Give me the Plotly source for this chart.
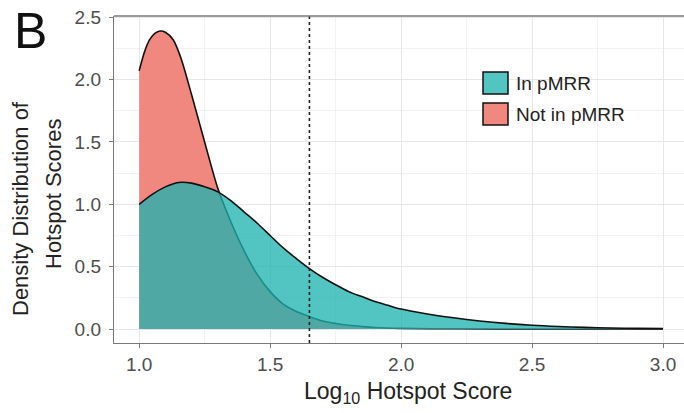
import plotly.graph_objects as go

# ---- data ----
x_not = [1.00, 1.02, 1.04, 1.06, 1.08, 1.10, 1.13, 1.16, 1.20, 1.25, 1.30, 1.35, 1.40,
         1.45, 1.50, 1.55, 1.60, 1.65, 1.70, 1.75, 1.80, 1.85, 1.90, 2.00, 2.20, 2.50, 3.00]
y_not = [2.07, 2.22, 2.32, 2.37, 2.39, 2.38, 2.32, 2.17, 1.88, 1.50, 1.13, 0.86, 0.63,
         0.44, 0.30, 0.20, 0.14, 0.10, 0.065, 0.045, 0.03, 0.02, 0.012, 0.005, 0.002, 0.0, 0.0]

x_in = [1.00, 1.05, 1.10, 1.15, 1.20, 1.25, 1.30, 1.35, 1.40, 1.45, 1.50, 1.55, 1.60,
        1.65, 1.70, 1.75, 1.80, 1.85, 1.90, 1.95, 2.00, 2.10, 2.20, 2.30, 2.40, 2.50, 2.60,
        2.70, 2.80, 2.90, 3.00]
y_in = [1.00, 1.08, 1.14, 1.175, 1.17, 1.14, 1.10, 1.03, 0.94, 0.85, 0.75, 0.65, 0.565,
        0.485, 0.415, 0.355, 0.30, 0.26, 0.22, 0.19, 0.16, 0.12, 0.09, 0.065, 0.045, 0.03,
        0.02, 0.013, 0.008, 0.005, 0.003]

series_names = ["In pMRR", "Not in pMRR"]
threshold = 1.65
x_ticks = [1.0, 1.5, 2.0, 2.5, 3.0]
x_tick_labels = ["1.0", "1.5", "2.0", "2.5", "3.0"]
y_ticks = [0.0, 0.5, 1.0, 1.5, 2.0, 2.5]
y_tick_labels = ["0.0", "0.5", "1.0", "1.5", "2.0", "2.5"]
y_title_lines = ["Density Distribution of", "Hotspot Scores"]
x_title = "Log<sub>10</sub> Hotspot Score"
panel_label = "B"

RED = "#F0887F"
TEAL_FILL = "rgba(28,179,175,0.76)"
TEAL_SWATCH = "#52C5C2"
FONT = "Liberation Sans, Arial, sans-serif"

# plot-area geometry in pixels (for placing free text)
L, R, T, B = 114, 684, 16, 343
W, H = R - L, B - T
def px(xp):
    return (xp - L) / W
def py(yp):
    return (B - yp) / H

fig = go.Figure()
fig.add_trace(go.Scatter(x=x_not, y=y_not, mode="lines", fill="tozeroy",
                         fillcolor=RED, line=dict(color="#111111", width=1.6, shape="spline", smoothing=0.8),
                         name=series_names[1], showlegend=False, hoverinfo="skip"))
fig.add_trace(go.Scatter(x=x_in, y=y_in, mode="lines", fill="tozeroy",
                         fillcolor=TEAL_FILL, line=dict(color="#111111", width=1.6, shape="spline", smoothing=0.8),
                         name=series_names[0], showlegend=False, hoverinfo="skip"))

# dotted threshold line
fig.add_shape(type="line", xref="x", yref="paper", x0=threshold, x1=threshold, y0=0, y1=1,
              line=dict(color="#222222", width=1.6, dash="dot"))
# top panel border
fig.add_shape(type="line", xref="paper", yref="paper", x0=0, x1=1, y0=1, y1=1,
              line=dict(color="#7A7A7A", width=1.4))

# manual legend
legend_items = [(series_names[0], TEAL_SWATCH), (series_names[1], RED)]
box_tops = [72, 103]
for (name, col), top in zip(legend_items, box_tops):
    fig.add_shape(type="rect", xref="paper", yref="paper",
                  x0=px(483), x1=px(508), y0=py(top + 22), y1=py(top),
                  fillcolor=col, line=dict(color="#111111", width=1.5))
    fig.add_annotation(xref="paper", yref="paper", x=px(514), y=py(top + 11),
                       text=name, showarrow=False, xanchor="left", yanchor="middle",
                       font=dict(family=FONT, size=19, color="#222222"))

# panel label
fig.add_annotation(xref="paper", yref="paper", x=px(12), y=py(31), text=panel_label,
                   showarrow=False, xanchor="left", yanchor="middle",
                   font=dict(family=FONT, size=50, color="#111111"))

# y-axis title (two lines)
for text, cx, cy in zip(y_title_lines, [20, 53], [208, 194]):
    fig.add_annotation(xref="paper", yref="paper", x=px(cx), y=py(cy), text=text,
                       showarrow=False, textangle=-90, xanchor="center", yanchor="middle",
                       font=dict(family=FONT, size=22, color="#222222"))

# x-axis title
fig.add_annotation(xref="paper", yref="paper", x=px(408), y=py(392), text=x_title,
                   showarrow=False, xanchor="center", yanchor="middle",
                   font=dict(family=FONT, size=23, color="#222222"))

fig.update_layout(
    width=684, height=413,
    margin=dict(l=L, r=684 - R, t=T, b=413 - B),
    paper_bgcolor="white", plot_bgcolor="white",
    font=dict(family=FONT, color="#222222"),
    showlegend=False,
    xaxis=dict(range=[0.904, 3.08], tickvals=x_ticks, ticktext=x_tick_labels,
               showgrid=True, gridcolor="#E6E6E6", gridwidth=1,
               minor=dict(dtick=0.25, tick0=0, showgrid=True, gridcolor="#F2F2F2", gridwidth=0.7),
               showline=True, linecolor="#7A7A7A", linewidth=1.4,
               ticks="outside", ticklen=4, tickcolor="#7A7A7A", tickwidth=1.2,
               tickfont=dict(size=19, color="#4D4D4D"), zeroline=False),
    yaxis=dict(range=[-0.112, 2.51], tickvals=y_ticks, ticktext=y_tick_labels,
               showgrid=True, gridcolor="#E6E6E6", gridwidth=1,
               minor=dict(dtick=0.25, tick0=0, showgrid=True, gridcolor="#F2F2F2", gridwidth=0.7),
               showline=True, linecolor="#7A7A7A", linewidth=1.4,
               ticks="outside", ticklen=4, tickcolor="#7A7A7A", tickwidth=1.2,
               ticklabelstandoff=4,
               tickfont=dict(size=19, color="#4D4D4D"), zeroline=False),
)

fig.write_html("out.html")
